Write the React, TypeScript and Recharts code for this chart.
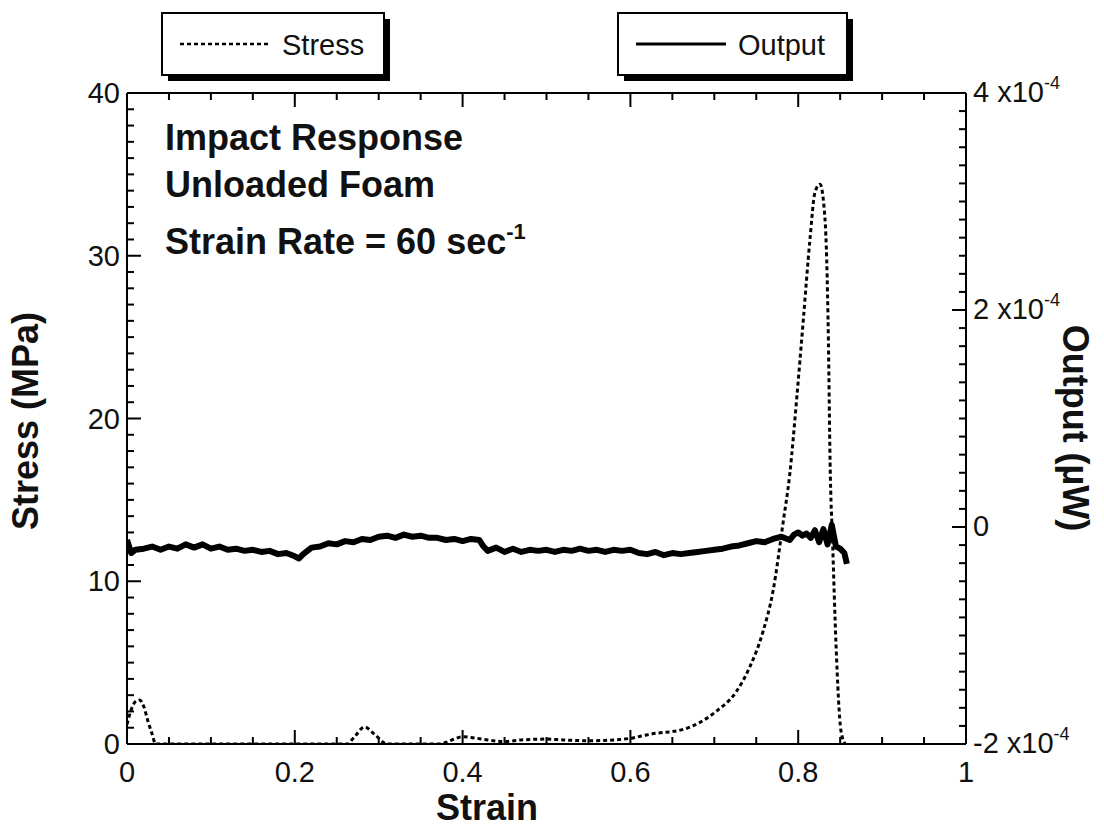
import { LineChart, Line, XAxis, YAxis } from "recharts";

// stress (MPa) vs strain, dashed line, left axis
const stressStrain = [
  0, 0.005, 0.01, 0.015, 0.02, 0.025, 0.03, 0.034, 0.1, 0.2, 0.262, 0.272, 0.283,
  0.295, 0.31, 0.37, 0.38, 0.39, 0.4, 0.41, 0.43, 0.45, 0.47, 0.5, 0.52, 0.55,
  0.58, 0.6, 0.623, 0.663, 0.702, 0.726, 0.742, 0.758, 0.77, 0.782, 0.79, 0.798,
  0.806, 0.814, 0.82, 0.826, 0.832, 0.836, 0.838, 0.841, 0.845, 0.851, 0.856,
];
const stressValues = [
  1.2, 2.1, 2.6, 2.7, 2.3, 1.4, 0.6, 0, 0, 0, 0, 0.5, 1.05,
  0.6, 0, 0, 0.1, 0.3, 0.45, 0.4, 0.25, 0.15, 0.25, 0.3, 0.25, 0.2,
  0.25, 0.35, 0.6, 0.9, 2.0, 3.2, 4.7, 6.9, 9.4, 13.6, 16.6, 21.1,
  26.0, 31.0, 33.9, 34.4, 32.2, 24.8, 17.3, 12.4, 6.2, 0.8, 0,
];

// output (x10^-4 uW) vs strain, solid line, right axis
const outputStrain = [
  0, 0.005, 0.01, 0.02, 0.03, 0.04, 0.05, 0.06, 0.07, 0.08, 0.09, 0.1, 0.11, 0.12,
  0.13, 0.14, 0.15, 0.16, 0.17, 0.18, 0.19, 0.2, 0.205, 0.21, 0.22, 0.23, 0.24,
  0.25, 0.26, 0.27, 0.28, 0.29, 0.3, 0.31, 0.32, 0.33, 0.34, 0.35, 0.36, 0.37,
  0.38, 0.39, 0.4, 0.41, 0.42, 0.425, 0.43, 0.44, 0.45, 0.46, 0.47, 0.48, 0.49,
  0.5, 0.51, 0.52, 0.53, 0.54, 0.55, 0.56, 0.57, 0.58, 0.59, 0.6, 0.61, 0.62,
  0.63, 0.64, 0.65, 0.66, 0.67, 0.68, 0.69, 0.7, 0.71, 0.72, 0.73, 0.74, 0.75,
  0.76, 0.77, 0.78, 0.79, 0.795, 0.8, 0.805, 0.81, 0.815, 0.82, 0.825, 0.83,
  0.835, 0.84, 0.845, 0.85, 0.855, 0.858,
];
const outputValues = [
  -0.12, -0.24, -0.21, -0.2, -0.18, -0.21, -0.18, -0.2, -0.16, -0.19, -0.16, -0.2, -0.18, -0.21,
  -0.2, -0.22, -0.21, -0.23, -0.22, -0.25, -0.24, -0.27, -0.29, -0.25, -0.19, -0.18, -0.15,
  -0.16, -0.13, -0.14, -0.11, -0.12, -0.09, -0.08, -0.1, -0.07, -0.09, -0.08, -0.1, -0.1,
  -0.12, -0.11, -0.13, -0.11, -0.12, -0.18, -0.22, -0.19, -0.23, -0.2, -0.23, -0.21, -0.22,
  -0.21, -0.23, -0.21, -0.22, -0.2, -0.22, -0.21, -0.23, -0.21, -0.22, -0.21, -0.24, -0.25,
  -0.23, -0.26, -0.24, -0.25, -0.24, -0.23, -0.22, -0.21, -0.2, -0.18, -0.17, -0.15, -0.13,
  -0.14, -0.11, -0.09, -0.12, -0.07, -0.05, -0.08, -0.06, -0.1, -0.03, -0.14, -0.02,
  -0.16, 0.02, -0.18, -0.2, -0.24, -0.34,
];

const strainTicks = [
  0, 0.05, 0.1, 0.15, 0.2, 0.25, 0.3, 0.35, 0.4, 0.45, 0.5, 0.55, 0.6, 0.65, 0.7,
  0.75, 0.8, 0.85, 0.9, 0.95, 1,
];
const strainLabels = ["0", "0.2", "0.4", "0.6", "0.8", "1"];
const stressTicks = Array.from({ length: 41 }, (_, i) => i);
const outputTicks = Array.from({ length: 37 }, (_, i) => Number((-2 + i / 6).toFixed(6)));

const stressData = stressStrain.map((s, i) => ({ s, v: stressValues[i] }));
const outputData = outputStrain.map((s, i) => ({ s, v: outputValues[i] }));

const FONT = "'Liberation Sans', Arial, sans-serif";

const near = (a: number, b: number) => Math.abs(a - b) < 1e-6;

function BottomTick(props: any) {
  const { x, y, payload } = props;
  const v = payload.value;
  const major = near(v * 5, Math.round(v * 5));
  return (
    <g>
      <line x1={x} x2={x} y1={y} y2={y - (major ? 14 : 7)} stroke="#000" strokeWidth={2} />
      {major && (
        <text x={x} y={y + 38} textAnchor="middle" fontSize={29} fontFamily={FONT} fill="#111">
          {strainLabels[Math.round(v * 5)]}
        </text>
      )}
    </g>
  );
}

function TopTick(props: any) {
  const { x, y, payload } = props;
  const v = payload.value;
  const major = near(v * 5, Math.round(v * 5));
  return <line x1={x} x2={x} y1={y} y2={y + (major ? 14 : 7)} stroke="#000" strokeWidth={2} />;
}

function LeftTick(props: any) {
  const { x, y, payload } = props;
  const v = payload.value;
  const major = v % 10 === 0;
  return (
    <g>
      <line x1={x} x2={x + (major ? 14 : 7)} y1={y} y2={y} stroke="#000" strokeWidth={2} />
      {major && (
        <text x={x - 7} y={y + 10} textAnchor="end" fontSize={29} fontFamily={FONT} fill="#111">
          {v}
        </text>
      )}
    </g>
  );
}

function RightTick(props: any) {
  const { x, y, payload } = props;
  const v = payload.value;
  const major = near(v / 2, Math.round(v / 2));
  return (
    <g>
      <line x1={x} x2={x - (major ? 14 : 7)} y1={y} y2={y} stroke="#000" strokeWidth={2} />
      {major && (
        <text x={x + 7} y={y + 9} textAnchor="start" fontSize={29} fontFamily={FONT} fill="#111">
          {Math.round(v) === 0 ? (
            "0"
          ) : (
            <>
              {`${Math.round(v)} x10`}
              <tspan dy={-13} fontSize={18}>-4</tspan>
            </>
          )}
        </text>
      )}
    </g>
  );
}

function LegendBox({ x, w, dashed, label }: { x: number; w: number; dashed: boolean; label: string }) {
  return (
    <g>
      <rect x={x + 6} y={19} width={w} height={62} fill="#000" />
      <rect x={x} y={13} width={w} height={62} fill="#fff" stroke="#000" strokeWidth={2} />
      <line
        x1={x + 18}
        x2={x + 108}
        y1={44}
        y2={44}
        stroke="#000"
        strokeWidth={dashed ? 2.5 : 3}
        strokeDasharray={dashed ? "4 3" : undefined}
      />
      <text x={x + 120} y={55} fontSize={29} fontFamily={FONT} fill="#111">
        {label}
      </text>
    </g>
  );
}

export default function App() {
  return (
    <div style={{ position: "absolute", left: 0, top: 0, width: 1104, height: 830, background: "#fff" }}>
      <LineChart
        width={1104}
        height={830}
        margin={{ top: 73, right: 78, bottom: 46, left: 67 }}
      >
        <XAxis
          xAxisId="b"
          dataKey="s"
          type="number"
          domain={[0, 1]}
          ticks={strainTicks}
          interval={0}
          height={40}
          tickSize={0}
          tickMargin={0}
          tickLine={false}
          tick={BottomTick}
          axisLine={{ stroke: "#000", strokeWidth: 2 }}
          allowDataOverflow
        />
        <XAxis
          xAxisId="t"
          orientation="top"
          dataKey="s"
          type="number"
          domain={[0, 1]}
          ticks={strainTicks}
          interval={0}
          height={20}
          tickSize={0}
          tickMargin={0}
          tickLine={false}
          tick={TopTick}
          axisLine={{ stroke: "#000", strokeWidth: 2 }}
          allowDataOverflow
        />
        <YAxis
          yAxisId="left"
          type="number"
          domain={[0, 40]}
          ticks={stressTicks}
          interval={0}
          width={60}
          tickSize={0}
          tickMargin={0}
          tickLine={false}
          tick={LeftTick}
          axisLine={{ stroke: "#000", strokeWidth: 2 }}
          allowDataOverflow
        />
        <YAxis
          yAxisId="right"
          orientation="right"
          type="number"
          domain={[-2, 4]}
          ticks={outputTicks}
          interval={0}
          width={60}
          tickSize={0}
          tickMargin={0}
          tickLine={false}
          tick={RightTick}
          axisLine={{ stroke: "#000", strokeWidth: 2 }}
          allowDataOverflow
        />
        <Line
          xAxisId="t"
          yAxisId="left"
          data={stressData}
          dataKey="v"
          type="monotone"
          stroke="#000"
          strokeWidth={3}
          strokeDasharray="4 3"
          dot={false}
          isAnimationActive={false}
        />
        <Line
          xAxisId="b"
          yAxisId="right"
          data={outputData}
          dataKey="v"
          type="linear"
          stroke="#000"
          strokeWidth={6}
          strokeLinejoin="round"
          dot={false}
          isAnimationActive={false}
        />
      </LineChart>
      <svg
        width={1104}
        height={830}
        style={{ position: "absolute", left: 0, top: 0, pointerEvents: "none" }}
      >
        <LegendBox x={162} w={222} dashed label="Stress" />
        <LegendBox x={618} w={229} dashed={false} label="Output" />
        <g fontFamily={FONT} fontWeight="bold" fontSize={36} fill="#111">
          <text x={165} y={150}>Impact Response</text>
          <text x={165} y={197}>Unloaded Foam</text>
          <text x={165} y={254}>
            Strain Rate = 60 sec
            <tspan dy={-15} fontSize={22}>-1</tspan>
          </text>
          <text x={487} y={820} textAnchor="middle">Strain</text>
          <text x={38} y={421} textAnchor="middle" transform="rotate(-90 38 421)">
            Stress (MPa)
          </text>
          <text x={1063} y={428} textAnchor="middle" transform="rotate(90 1063 428)">
            Output (µW)
          </text>
        </g>
      </svg>
    </div>
  );
}
